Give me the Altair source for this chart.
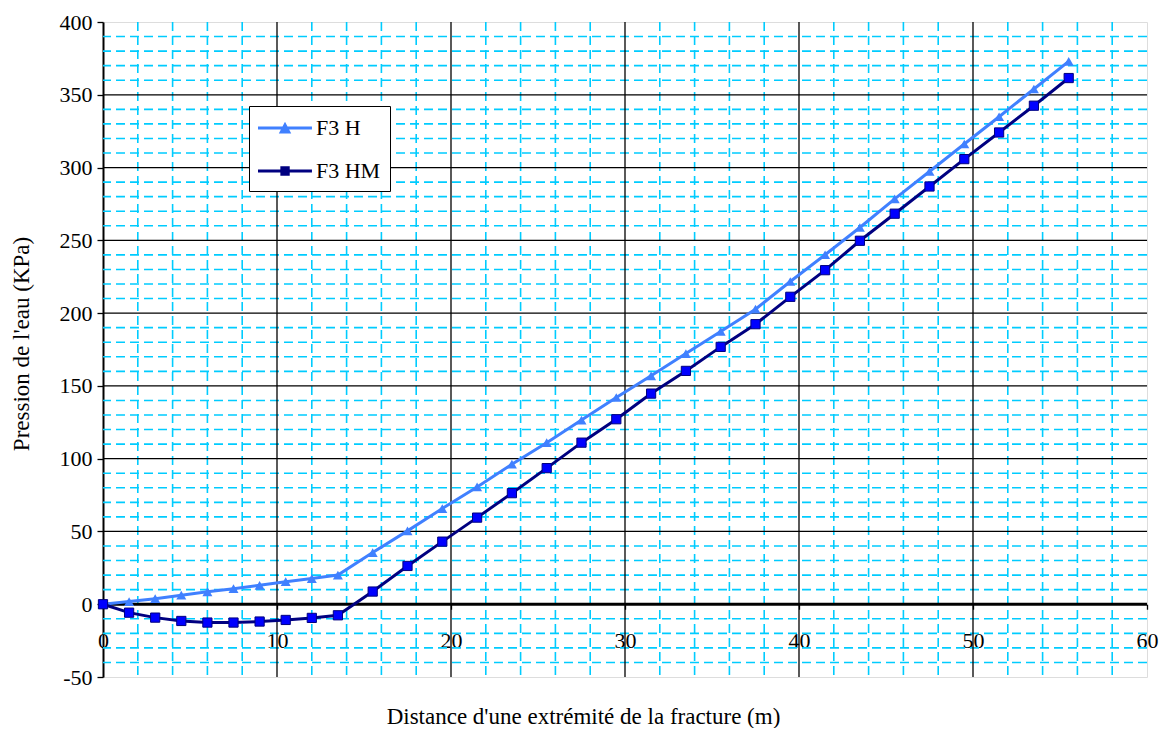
import altair as alt
import pandas as pd

# ---------------- data ----------------
series_names = ["F3 H", "F3 HM"]
x_vals = [0, 1.5, 3, 4.5, 6, 7.5, 9, 10.5, 12, 13.5,
          15.5, 17.5, 19.5, 21.5, 23.5, 25.5, 27.5, 29.5, 31.5, 33.5,
          35.5, 37.5, 39.5, 41.5, 43.5, 45.5, 47.5, 49.5, 51.5, 53.5, 55.5]
h_vals = [0, 1.8, 3.8, 6.2, 8.5, 10.7, 13, 15.5, 17.6, 20,
          35.5, 50.4, 65.7, 80.6, 96.2, 111, 126.5, 142, 156.9, 172.2,
          187.4, 202.7, 221.7, 240.1, 258.8, 278.5, 297.3, 316.2, 334.9, 354, 372.9]
hm_vals = [0, -5.8, -9.2, -11.5, -12.6, -12.6, -11.9, -10.8, -9.4, -7.6,
           8.7, 26.3, 43, 59.5, 76.3, 93.5, 111, 127.1, 144.7, 160.3,
           176.8, 192.4, 211.2, 229.5, 249.7, 268.3, 287, 305.8, 324.1, 342.5, 361.5]

x_ticks = [0, 10, 20, 30, 40, 50, 60]
y_ticks = [-50, 0, 50, 100, 150, 200, 250, 300, 350, 400]
x_major = [10, 20, 30, 40, 50]
y_major = [50, 100, 150, 200, 250, 300, 350]
x_minor = [v for v in range(2, 60, 2) if v % 10]
y_minor = [v for v in range(-40, 400, 10) if v % 50]

# ---------------- style ----------------
W, H = 1044, 655
FONT = "Times New Roman, Liberation Serif, serif"
C_H = "#4080FF"
C_HM = "#000080"
C_HM_FILL = "#0000FF"
GRID_CYAN = "#00CCFF"

xs = alt.Scale(domain=[0, 60], nice=False, zero=False)
ys = alt.Scale(domain=[-50, 400], nice=False, zero=False)

x_axis = alt.Axis(
    values=x_ticks, orient="bottom", offset=-(50 / 450) * H,
    domain=False, grid=False, ticks=True, tickColor="black", tickSize=5,
    tickWidth=1.3, labelFont=FONT, labelFontSize=22, labelColor="black",
    labelPadding=21, labelFlush=False, labelOverlap=False,
    labelExpr="'' + datum.value",
    title="Distance d'une extrémité de la fracture (m)",
    titleFont=FONT, titleFontSize=23, titleFontWeight="normal", titleColor="black",
    titleX=480, titleY=119, titleAlign="center", titleBaseline="alphabetic",
    titleAnchor="start",
)
y_axis = alt.Axis(
    values=y_ticks, orient="left", domain=True, domainColor="black",
    domainWidth=2, grid=False, ticks=True, tickColor="black", tickSize=6,
    tickWidth=1.3, labelFont=FONT, labelFontSize=22, labelColor="black",
    labelPadding=5, labelOverlap=False, labelFlush=False,
    labelExpr="'' + datum.value",
    title="Pression de l'eau (KPa)", titleFont=FONT, titleFontSize=23,
    titleFontWeight="normal", titleColor="black",
    titleX=-75, titleY=H / 2 - 6, titleAngle=-90, titleAlign="center",
    titleBaseline="alphabetic",
)


def X():
    return alt.X("x:Q", scale=xs, axis=x_axis)


def Y():
    return alt.Y("y:Q", scale=ys, axis=y_axis)


# ---------------- grid ----------------
vminor = alt.Chart(pd.DataFrame({"x": x_minor})).mark_rule(
    color=GRID_CYAN, strokeDash=[9, 5], strokeWidth=1.6
).encode(x=X())
hminor = alt.Chart(pd.DataFrame({"y": y_minor})).mark_rule(
    color=GRID_CYAN, strokeDash=[9, 5], strokeWidth=1.6
).encode(y=Y())
vmajor = alt.Chart(pd.DataFrame({"x": x_major})).mark_rule(
    color="black", strokeWidth=1.3
).encode(x=X())
hmajor = alt.Chart(pd.DataFrame({"y": y_major})).mark_rule(
    color="black", strokeWidth=1.3
).encode(y=Y())
zero = alt.Chart(pd.DataFrame({"y": [0]})).mark_rule(
    color="black", strokeWidth=3
).encode(y=Y())

# ---------------- data layers ----------------
df_h = pd.DataFrame({"x": x_vals, "y": h_vals})
df_hm = pd.DataFrame({"x": x_vals, "y": hm_vals})

h_line = alt.Chart(df_h).mark_line(color=C_H, strokeWidth=3).encode(x=X(), y=Y())
h_pts = alt.Chart(df_h).mark_point(
    shape="triangle-up", filled=True, color=C_H, size=100, opacity=1
).encode(x=X(), y=Y())
hm_line = alt.Chart(df_hm).mark_line(color=C_HM, strokeWidth=3).encode(x=X(), y=Y())
hm_pts = alt.Chart(df_hm).mark_point(
    shape="square", filled=True, fill=C_HM_FILL, stroke=C_HM, strokeWidth=1,
    size=85, opacity=1
).encode(x=X(), y=Y())

# ---------------- legend (from an empty layer) ----------------
path_h = ("M-1,-0.115H3.15V0.115H-1Z "
          "M0.6,0.42L1.077,-0.48L1.557,0.42Z")
path_hm = ("M-1,-0.115H3.15V0.115H-1Z "
           "M0.72,-0.36H1.44V0.36H0.72Z")
leg = alt.Legend(
    title=None, orient="none", legendX=146, legendY=84, padding=9,
    strokeColor="black", fillColor="white", labelFont=FONT,
    labelFontSize=22, labelColor="black", symbolSize=676, rowPadding=19,
    labelOffset=32, symbolStrokeWidth=0, symbolOpacity=1, labelLimit=300,
    cornerRadius=0,
)
df_leg = pd.DataFrame({"x": [0, 0], "y": [0, 0], "series": series_names})
legend_layer = alt.Chart(df_leg).transform_filter("false").mark_point(
    filled=True, opacity=1
).encode(
    x=X(), y=Y(),
    color=alt.Color("series:N", scale=alt.Scale(domain=series_names, range=[C_H, C_HM]), legend=leg),
    shape=alt.Shape("series:N", scale=alt.Scale(domain=series_names, range=[path_h, path_hm]), legend=leg),
)

chart = alt.layer(
    vminor, hminor, vmajor, hmajor, zero, h_line, hm_line, h_pts, hm_pts, legend_layer
).properties(
    width=W, height=H, autosize="none",
    padding={"left": 95, "top": 14, "right": 12, "bottom": 51},
).configure_view(stroke="#888888", strokeWidth=2).configure(background="white")

chart.save("out.html", embed_options={"renderer": "svg", "actions": False})
